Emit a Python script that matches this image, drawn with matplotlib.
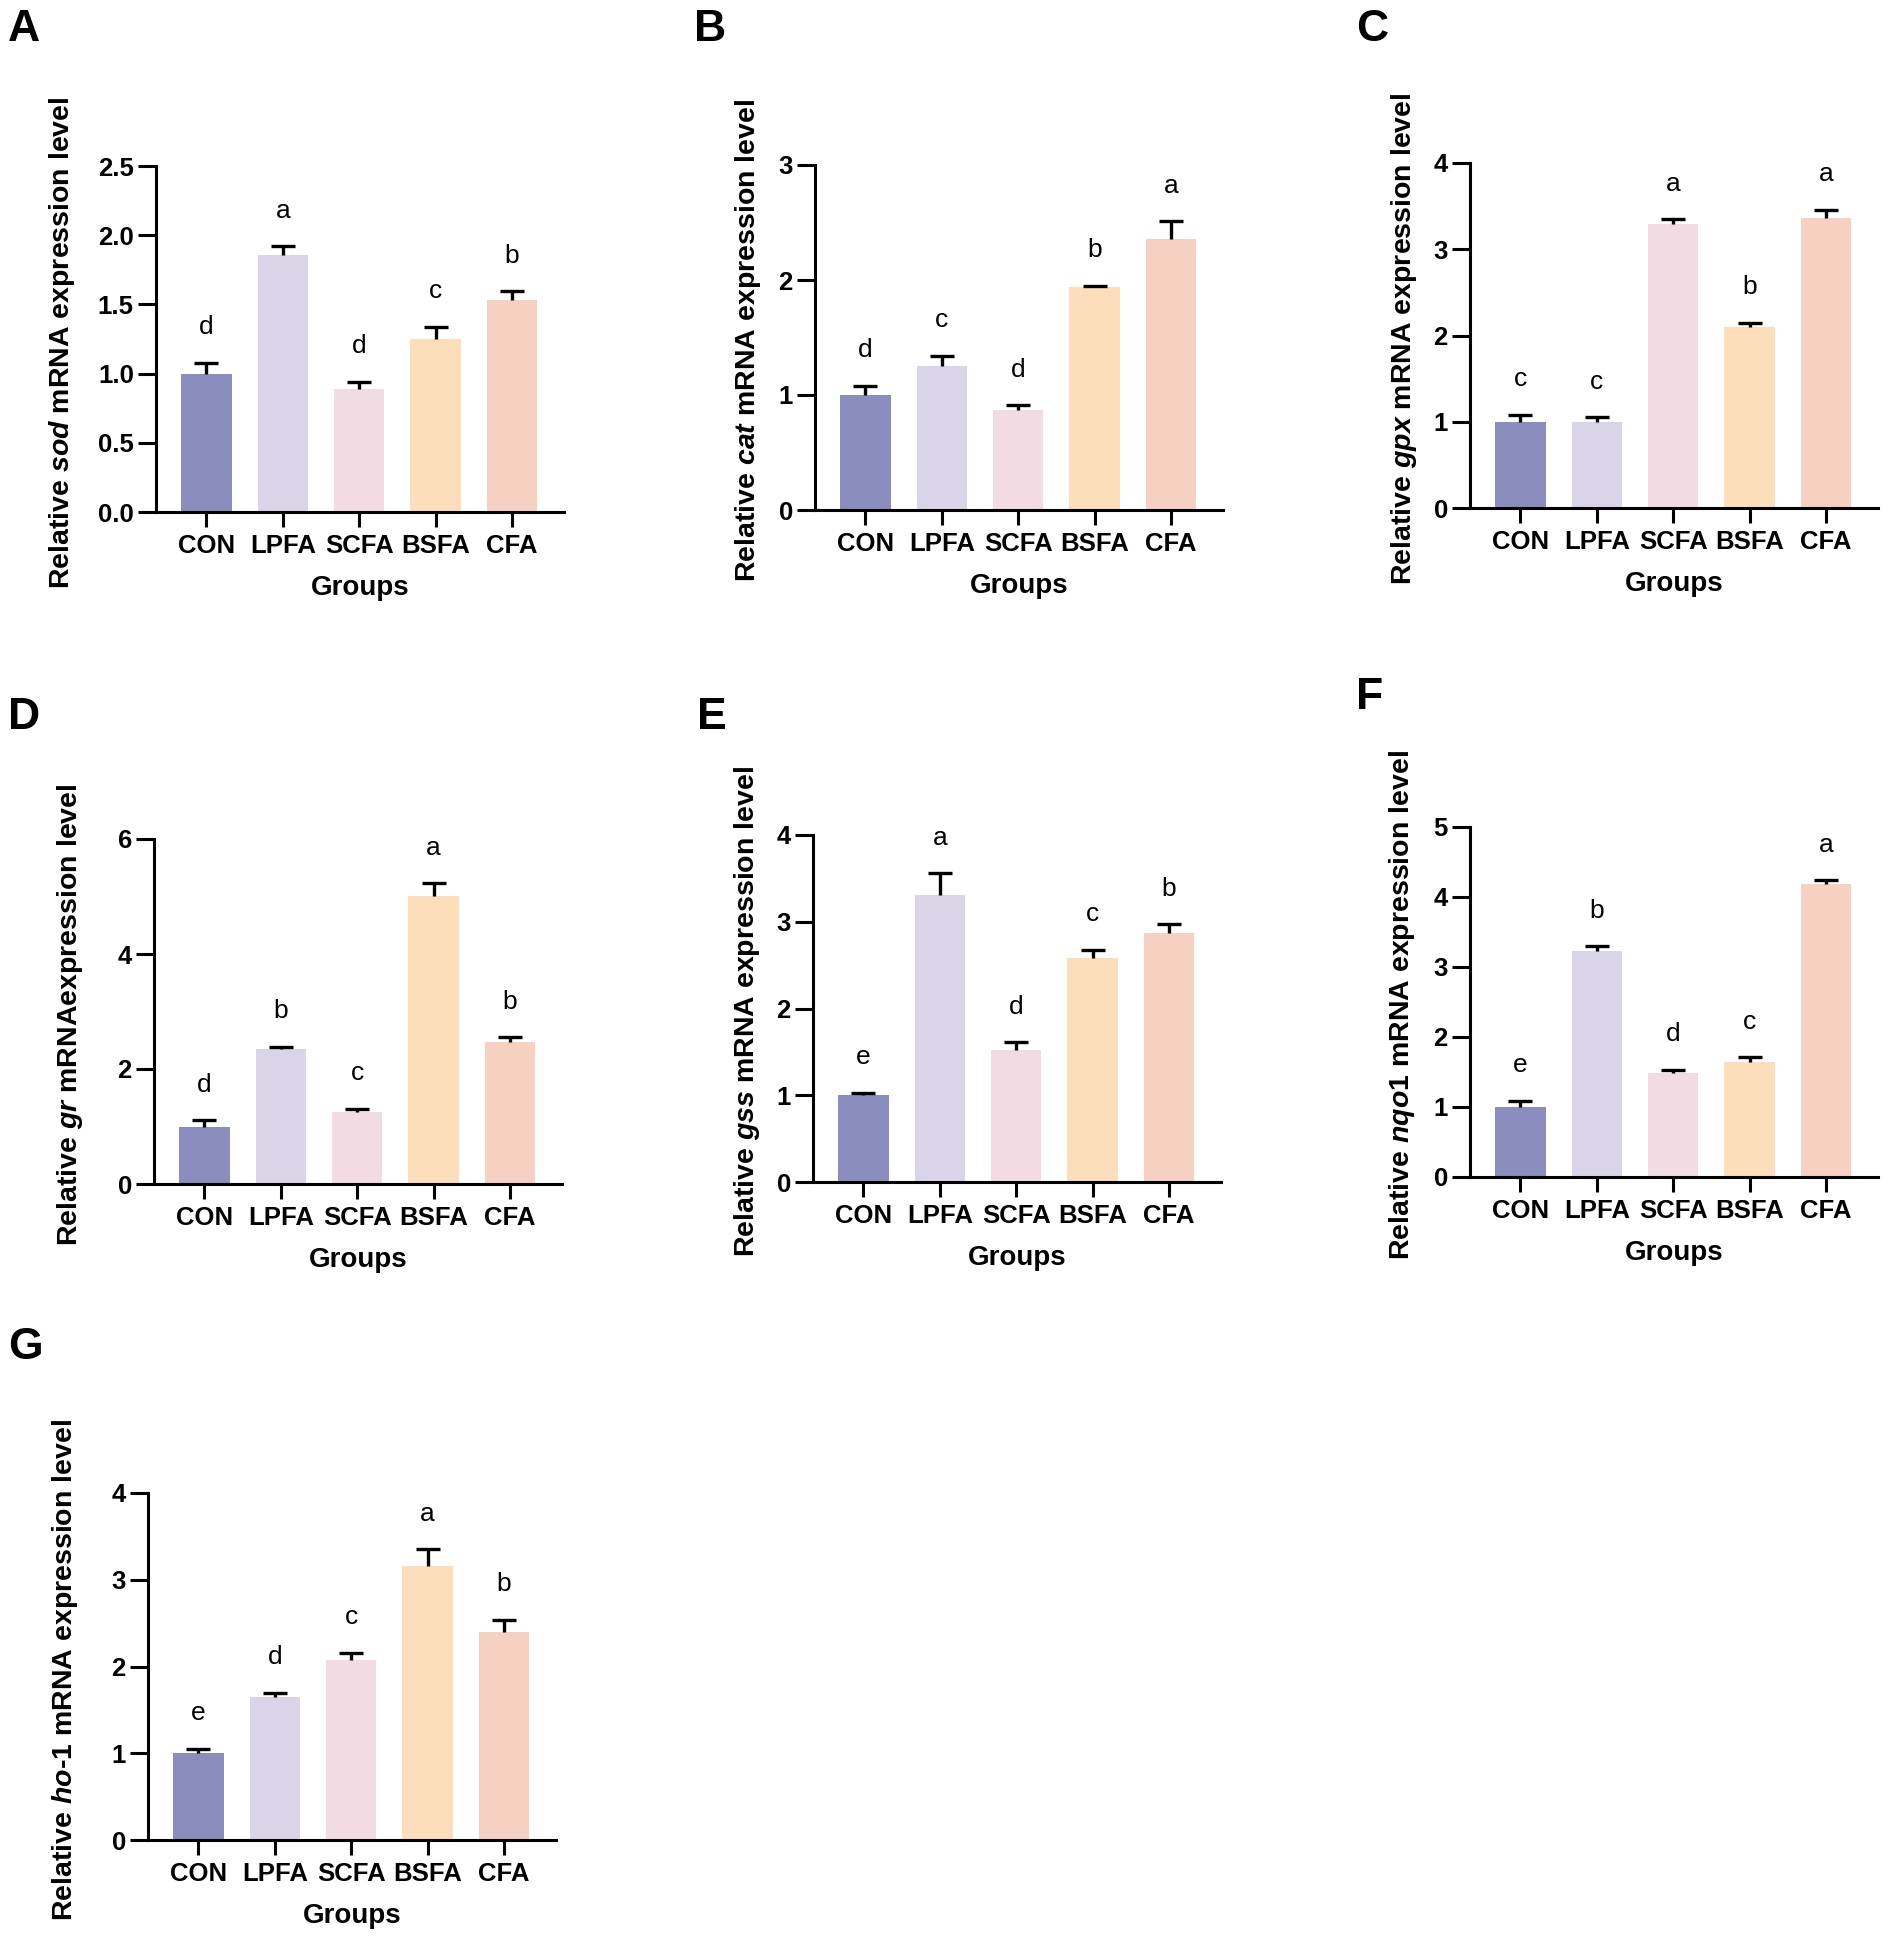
import matplotlib
matplotlib.use("Agg")
import matplotlib.pyplot as plt
import numpy as np

plt.rcParams['font.family'] = ['Liberation Sans', 'DejaVu Sans']
plt.rcParams['mathtext.fontset'] = 'custom'
plt.rcParams['mathtext.rm'] = 'Liberation Sans:bold'
plt.rcParams['mathtext.bf'] = 'Liberation Sans:bold'
plt.rcParams['mathtext.it'] = 'Liberation Sans:bold:italic'

groups = ["CON", "LPFA", "SCFA", "BSFA", "CFA"]
colors = ["#8A8DBE", "#DAD4E8", "#F3DBE3", "#FDDEBA", "#F6D0C0"]

panel_ids = ["A", "B", "C", "D", "E", "F", "G"]
ylabels = [
    r"Relative $\mathit{sod}$ mRNA expression level",
    r"Relative $\mathit{cat}$ mRNA expression level",
    r"Relative $\mathit{gpx}$ mRNA expression level",
    r"Relative $\mathit{gr}$ mRNAexpression level",
    r"Relative $\mathit{gss}$ mRNA expression level",
    r"Relative $\mathit{nqo1}$ mRNA expression level",
    r"Relative $\mathit{ho}$-$\mathit{1}$ mRNA expression level",
]

sod_mean = [1.00, 1.86, 0.89, 1.25, 1.53]
sod_err = [0.08, 0.06, 0.05, 0.09, 0.065]
sod_sig = ["d", "a", "d", "c", "b"]

cat_mean = [1.00, 1.25, 0.87, 1.94, 2.36]
cat_err = [0.08, 0.09, 0.04, 0.01, 0.15]
cat_sig = ["d", "c", "d", "b", "a"]

gpx_mean = [1.00, 1.00, 3.29, 2.10, 3.36]
gpx_err = [0.08, 0.05, 0.06, 0.05, 0.10]
gpx_sig = ["c", "c", "a", "b", "a"]

gr_mean = [1.00, 2.34, 1.26, 5.01, 2.47]
gr_err = [0.11, 0.05, 0.05, 0.22, 0.08]
gr_sig = ["d", "b", "c", "a", "b"]

gss_mean = [1.00, 3.31, 1.52, 2.58, 2.87]
gss_err = [0.03, 0.25, 0.09, 0.10, 0.10]
gss_sig = ["e", "a", "d", "c", "b"]

nqo1_mean = [1.00, 3.23, 1.48, 1.65, 4.19]
nqo1_err = [0.09, 0.07, 0.05, 0.06, 0.05]
nqo1_sig = ["e", "b", "d", "c", "a"]

ho1_mean = [1.00, 1.65, 2.08, 3.16, 2.40]
ho1_err = [0.05, 0.05, 0.08, 0.19, 0.14]
ho1_sig = ["e", "d", "c", "a", "b"]

means = [sod_mean, cat_mean, gpx_mean, gr_mean, gss_mean, nqo1_mean, ho1_mean]
errs = [sod_err, cat_err, gpx_err, gr_err, gss_err, nqo1_err, ho1_err]
sigs = [sod_sig, cat_sig, gpx_sig, gr_sig, gss_sig, nqo1_sig, ho1_sig]
ymaxs = [2.5, 3, 4, 6, 4, 5, 4]
ysteps = [0.5, 1, 1, 2, 1, 1, 1]
yfmts = ["%.1f", "%d", "%d", "%d", "%d", "%d", "%d"]

W, H = 1890, 1941
fig = plt.figure(figsize=(W / 100, H / 100), dpi=100)

# axes boxes in pixels: left, bottom(y from top), width, height
boxes = [
    (156, 512, 408, 346),
    (815, 510, 408, 345),
    (1470, 508, 408, 345),
    (154, 1184, 408, 345),
    (813, 1182, 408, 347),
    (1470, 1177, 408, 350),
    (148, 1840, 408, 347),
]
letter_pos = [(8, 41), (694, 41), (1356, 41), (8, 729), (697, 729), (1356, 709), (8, 1359)]
ylab_off = [-94, -67, -66, -84, -66, -68, -83]

x = np.arange(len(groups))
for i in range(7):
    l, b, w, h = boxes[i]
    ax = fig.add_axes([l / W, 1 - b / H, w / W, h / H])
    ax.bar(x, means[i], width=0.66, color=colors, edgecolor="none", zorder=2)
    eb = ax.errorbar(x, means[i], yerr=[np.zeros(5), errs[i]], fmt="none", ecolor="black",
                     elinewidth=2.4, capsize=8.5, capthick=2.4, zorder=3, clip_on=False)
    # hide the lower caps (sitting at the bar tops)
    for cl in eb[1]:
        if np.allclose(cl.get_ydata(), means[i]):
            cl.set_visible(False)
    ax.set_xlim(-0.66, 4.68)
    ax.set_ylim(0, ymaxs[i])
    yt = np.arange(0, ymaxs[i] + 1e-9, ysteps[i])
    ax.set_yticks(yt)
    ax.set_yticklabels([yfmts[i] % v for v in yt])
    ax.set_xticks(x)
    ax.set_xticklabels(groups)
    for s in ["top", "right"]:
        ax.spines[s].set_visible(False)
    for s in ["left", "bottom"]:
        ax.spines[s].set_linewidth(2.2)
    ax.tick_params(axis="y", direction="out", length=13, width=2.2, pad=3, labelsize=18.5)
    ax.tick_params(axis="x", direction="out", length=11, width=2.2, pad=5, labelsize=18.5)
    for t in ax.get_xticklabels() + ax.get_yticklabels():
        t.set_fontweight("bold")
    for j in range(5):
        ax.annotate(sigs[i][j], (x[j], means[i][j] + errs[i][j]), xytext=(0, 20.5),
                    textcoords="offset points", ha="center", va="baseline",
                    fontsize=19, annotation_clip=False)
    ax.text(0.5, -76 / h, "Groups", transform=ax.transAxes, ha="center", va="center",
            fontsize=20, fontweight="bold")
    ax.text(ylab_off[i] / w, 0.49, ylabels[i], transform=ax.transAxes, rotation=90,
            ha="center", va="center", fontsize=20.5, fontweight="bold")
    lx, ly = letter_pos[i]
    fig.text(lx / W, 1 - ly / H, panel_ids[i], ha="left", va="baseline",
             fontsize=32, fontweight="bold")

fig.savefig("out.png", dpi=100, facecolor="white")
